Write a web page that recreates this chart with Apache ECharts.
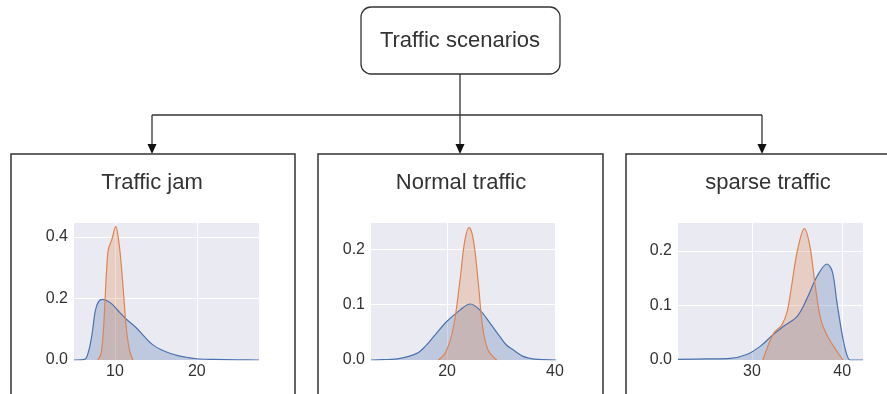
<!DOCTYPE html>
<html>
<head>
<meta charset="utf-8">
<script src="https://cdn.jsdelivr.net/npm/echarts@6/dist/echarts.min.js"></script>
<style>
  html, body { margin: 0; background: #fff; }
  #main { width: 887px; height: 394px; }
</style>
</head>
<body>
<div id="main"></div>
<script>
// diagram text
const rootLabel = 'Traffic scenarios';
const titles = ['Traffic jam', 'Normal traffic', 'sparse traffic'];

// axis ranges and ticks per panel
const xRanges = [[5.0, 27.6], [5.9, 40.2], [21.8, 42.3]];
const xTicks = [[10, 20], [20, 40], [30, 40]];
const yMax = [0.449, 0.249, 0.253];
const yStep = [0.2, 0.1, 0.1];

// density curves, [x, density]
const jamBlue = [[5.0, 0], [6.3, 0.002], [6.8, 0.03], [7.2, 0.083], [7.6, 0.16], [8.0, 0.19], [8.5, 0.197],
  [9.4, 0.187], [10.0, 0.172], [10.6, 0.154], [11.5, 0.13], [12.6, 0.105], [13.6, 0.076], [14.6, 0.05],
  [15.6, 0.034], [16.7, 0.022], [17.7, 0.014], [18.7, 0.009], [20, 0.004], [22, 0.002], [25, 0.0005], [27.6, 0]];
const jamOrange = [[7.9, 0], [8.3, 0.02], [8.6, 0.1], [8.8, 0.2], [9.0, 0.3], [9.2, 0.36], [9.6, 0.39],
  [10.1, 0.435], [10.5, 0.38], [10.8, 0.3], [11.1, 0.2], [11.4, 0.1], [11.8, 0.03], [12.2, 0]];

const normalBlue = [[5.9, 0], [8, 0.0005], [11.3, 0.003], [14.4, 0.012], [16, 0.025], [17.5, 0.042], [19.9, 0.069],
  [22.4, 0.09], [24.3, 0.101], [26.1, 0.09], [28.0, 0.066], [29.8, 0.042], [31, 0.027], [32.3, 0.018],
  [34, 0.007], [35.4, 0.003], [37, 0.001], [40.2, 0]];
const normalOrange = [[18.4, 0], [19.8, 0.015], [21.2, 0.06], [22.4, 0.144], [23.3, 0.216], [24.1, 0.239],
  [24.9, 0.216], [25.8, 0.138], [26.6, 0.06], [27.6, 0.018], [29.2, 0]];

const sparseBlue = [[21.8, 0.001], [25, 0.002], [27.6, 0.003], [29.4, 0.01], [30.9, 0.025], [32.3, 0.046],
  [33.5, 0.062], [35.0, 0.08], [36.1, 0.113], [37.2, 0.153], [38.3, 0.176], [38.9, 0.162], [39.4, 0.107],
  [40.0, 0.046], [40.5, 0.01], [40.9, 0], [42.3, 0]];
const sparseOrange = [[31.2, 0], [32.4, 0.049], [33.3, 0.064], [33.9, 0.089], [34.4, 0.137], [35.0, 0.198],
  [35.8, 0.241], [36.4, 0.21], [37.0, 0.137], [37.6, 0.076], [38.3, 0.046], [39.4, 0.016], [40.1, 0]];

const panels = [[jamBlue, jamOrange], [normalBlue, normalOrange], [sparseBlue, sparseOrange]];

const BLUE = '#4C72B0';
const ORANGE = '#DD8452';
const INK = '#333';
const FONT = '"Liberation Sans", Arial, sans-serif';

const gridLefts = [74, 371, 678];
const boxes = [[11, 295], [318, 603], [626, 900]];
const branchX = [152, 460, 762];
const titleX = [152, 461, 768];

const chart = echarts.init(document.getElementById('main'));

const grid = gridLefts.map(l => ({
  left: l, top: 222, width: 185, height: 138,
  show: true, backgroundColor: '#EAEAF2', borderWidth: 0,
}));

const xAxis = xRanges.map((r, i) => ({
  type: 'value', gridIndex: i, min: r[0], max: r[1],
  axisLine: { show: false },
  axisTick: { show: false, customValues: xTicks[i] },
  axisLabel: { customValues: xTicks[i], color: INK, fontSize: 16, fontFamily: FONT, margin: 4 },
  splitLine: { lineStyle: { color: '#fff', width: 1 } },
}));

const yAxis = yMax.map((m, i) => ({
  type: 'value', gridIndex: i, min: 0, max: m, interval: yStep[i],
  axisLine: { show: false },
  axisTick: { show: false },
  axisLabel: {
    color: INK, fontSize: 16, fontFamily: FONT, margin: 6,
    showMaxLabel: false,
    formatter: v => v.toFixed(1),
  },
  splitLine: { lineStyle: { color: '#fff', width: 1 } },
}));

const series = [];
panels.forEach((p, i) => {
  [[p[0], BLUE], [p[1], ORANGE]].forEach(([d, c]) => {
    series.push({
      type: 'line', xAxisIndex: i, yAxisIndex: i, data: d,
      smooth: 0.35, showSymbol: false, silent: true,
      lineStyle: { color: c, width: 1.2 },
      areaStyle: { color: c, opacity: 0.28 },
    });
  });
});

// boxes, connectors and labels of the tree
const graphic = [];
graphic.push({
  type: 'rect', shape: { x: 361, y: 7, width: 199, height: 67, r: 10 },
  style: { fill: '#fff', stroke: INK, lineWidth: 1.3 },
});
graphic.push({
  type: 'text', x: 460, y: 41,
  style: { text: rootLabel, fill: INK, font: '22px ' + FONT, align: 'center', verticalAlign: 'middle' },
});
graphic.push({ type: 'line', shape: { x1: 460, y1: 74, x2: 460, y2: 115 }, style: { stroke: INK, lineWidth: 1.3 } });
graphic.push({ type: 'line', shape: { x1: 152, y1: 115, x2: 762, y2: 115 }, style: { stroke: INK, lineWidth: 1.3 } });
branchX.forEach(x => {
  graphic.push({ type: 'line', shape: { x1: x, y1: 115, x2: x, y2: 146 }, style: { stroke: INK, lineWidth: 1.3 } });
  graphic.push({
    type: 'polygon', shape: { points: [[x - 4.5, 144], [x + 4.5, 144], [x, 154]] },
    style: { fill: '#111' },
  });
});
boxes.forEach((b, i) => {
  graphic.push({
    type: 'rect', z: -1, shape: { x: b[0], y: 154, width: b[1] - b[0], height: 260 },
    style: { fill: '#fff', stroke: INK, lineWidth: 1.5 },
  });
  graphic.push({
    type: 'text', x: titleX[i], y: 183,
    style: { text: titles[i], fill: INK, font: '22px ' + FONT, align: 'center', verticalAlign: 'middle' },
  });
});

chart.setOption({
  animation: false,
  grid, xAxis, yAxis, series, graphic,
});
</script>
</body>
</html>
